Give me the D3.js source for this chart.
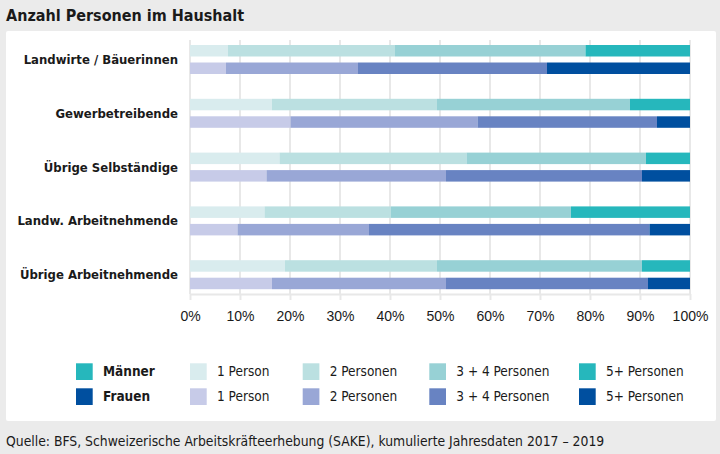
<!DOCTYPE html>
<meta charset="utf-8">
<style>
body { margin: 0; background: #ebebeb; }
svg { display: block; font-family: "Liberation Sans Narrow", "DejaVu Sans Condensed", "Roboto", sans-serif; }
.grid line { stroke: #e8e8e8; stroke-width: 2; }
.axis path, .axis line { stroke: #e8e8e8; stroke-width: 2; }
.axis text { fill: #1a1a1a; font-size: 14px; }
</style>
<svg width="720" height="454"></svg>
<script src="https://cdn.jsdelivr.net/npm/d3@7"></script>
<script>

var categories = ["Landwirte / Bäuerinnen", "Gewerbetreibende", "Übrige Selbständige", "Landw. Arbeitnehmende", "Übrige Arbeitnehmende"];
var seriesLabels = ["1 Person", "2 Personen", "3 + 4 Personen", "5+ Personen"];
var tickValues = [0, 10, 20, 30, 40, 50, 60, 70, 80, 90, 100];

// Männer, share in %
var maenner1  = [7.6, 16.4, 17.9, 14.9, 19.0];
var maenner2  = [33.4, 33.0, 37.4, 25.3, 30.4];
var maenner34 = [38.1, 38.6, 35.9, 36.0, 41.0];
var maenner5  = [20.9, 12.0, 8.8, 23.8, 9.6];

// Frauen, share in %
var frauen1  = [7.2, 20.1, 15.3, 9.5, 16.4];
var frauen2  = [26.4, 37.4, 35.9, 26.3, 34.8];
var frauen34 = [37.8, 35.9, 39.2, 56.1, 40.4];
var frauen5  = [28.6, 6.6, 9.6, 8.1, 8.4];

var maennerColors = ["#d9ecee", "#bbe0e1", "#97d1d5", "#26b7bc"];
var frauenColors  = ["#c7cbe8", "#99a7d6", "#6883c2", "#004f9f"];

var svg = d3.select("svg");

// panel + title
svg.append("rect")
    .attr("x", 6).attr("y", 31)
    .attr("width", 710).attr("height", 390)
    .attr("rx", 2)
    .attr("fill", "#fff");

svg.append("text")
    .attr("x", 6).attr("y", 21)
    .attr("font-size", 16)
    .attr("font-weight", "bold")
    .attr("fill", "#1a1a1a")
    .text("Anzahl Personen im Haushalt");

svg.append("text")
    .attr("x", 6).attr("y", 446)
    .attr("font-size", 13.8)
    .attr("fill", "#1a1a1a")
    .text("Quelle: BFS, Schweizerische Arbeitskräfteerhebung (SAKE), kumulierte Jahresdaten 2017 – 2019");

var x = d3.scaleLinear().domain([0, 100]).range([190, 690]);

var y = d3.scaleBand()
    .domain(categories)
    .range([45, 289.2])
    .paddingInner(0.461)
    .paddingOuter(0);

var ySex = d3.scaleBand()
    .domain(["m", "f"])
    .range([0, y.bandwidth()])
    .paddingInner(0.343);

// grid
svg.append("g")
    .attr("class", "grid")
    .selectAll("line")
    .data(tickValues)
    .join("line")
    .attr("x1", d => x(d)).attr("x2", d => x(d))
    .attr("y1", 40).attr("y2", 294);

svg.append("g")
    .attr("class", "axis")
    .attr("transform", "translate(0,294)")
    .call(d3.axisBottom(x).tickValues(tickValues).tickSize(6).tickSizeOuter(0).tickPadding(11)
        .tickFormat(d => d + "%"));

// bars
function buildRows(cols) {
  return categories.map(function (c, i) {
    var row = {category: c};
    seriesLabels.forEach(function (s, j) { row[s] = cols[j][i]; });
    return row;
  });
}

var groups = [
  {key: "m", rows: buildRows([maenner1, maenner2, maenner34, maenner5]), colors: maennerColors},
  {key: "f", rows: buildRows([frauen1, frauen2, frauen34, frauen5]), colors: frauenColors}
];

var stack = d3.stack().keys(seriesLabels);

groups.forEach(function (grp) {
  var layers = stack(grp.rows);
  svg.append("g")
    .selectAll("g")
    .data(layers)
    .join("g")
      .attr("fill", (d, i) => grp.colors[i])
    .selectAll("rect")
    .data(d => d)
    .join("rect")
      .attr("x", d => x(d[0]))
      .attr("width", d => x(d[1]) - x(d[0]))
      .attr("y", d => y(d.data.category) + ySex(grp.key))
      .attr("height", ySex.bandwidth());
});

// category labels
svg.append("g")
    .selectAll("text")
    .data(categories)
    .join("text")
    .attr("x", 178)
    .attr("y", d => y(d) + y.bandwidth() / 2)
    .attr("dy", "0.35em")
    .attr("text-anchor", "end")
    .attr("font-size", 13)
    .attr("font-weight", "bold")
    .attr("fill", "#1a1a1a")
    .text(d => d);

// legend
var legendRows = [
  {label: "Männer", color: maennerColors[3], colors: maennerColors, y: 363.3},
  {label: "Frauen", color: frauenColors[3], colors: frauenColors, y: 388.3}
];
var legendX = [190, 302.7, 429.3, 579];

legendRows.forEach(function (r) {
  var g = svg.append("g").attr("transform", "translate(0," + r.y + ")");
  g.append("rect").attr("x", 76).attr("width", 16.7).attr("height", 16.7).attr("fill", r.color);
  g.append("text").attr("x", 103).attr("y", 8.4).attr("dy", "0.35em")
    .attr("font-size", 13.5).attr("font-weight", "bold").attr("fill", "#1a1a1a")
    .text(r.label);
  seriesLabels.forEach(function (s, i) {
    g.append("rect").attr("x", legendX[i]).attr("width", 16.7).attr("height", 16.7).attr("fill", r.colors[i]);
    g.append("text").attr("x", legendX[i] + 27).attr("y", 8.4).attr("dy", "0.35em")
      .attr("font-size", 13.5).attr("fill", "#1a1a1a")
      .text(s);
  });
});

</script>
